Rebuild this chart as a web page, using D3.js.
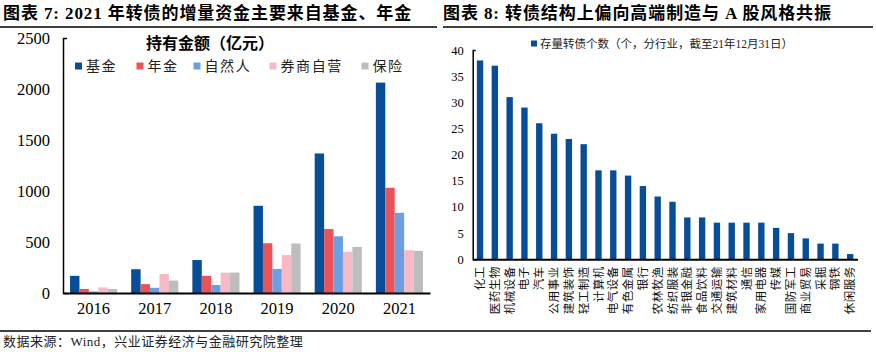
<!DOCTYPE html>
<html>
<head>
<meta charset="utf-8">
<script src="https://cdn.jsdelivr.net/npm/d3@7"></script>
<style>
  body { margin: 0; background: #fff; }
  svg { display: block; font-family: "Liberation Serif", "Noto Sans CJK SC", serif; }
</style>
</head>
<body>
<svg id="chart" width="876" height="352"></svg>
<script>
// left chart data
const years = ["2016", "2017", "2018", "2019", "2020", "2021"];
const holders = ["基金", "年金", "自然人", "券商自营", "保险"];
const fund = [168, 233, 323, 855, 1368, 2063];
const pension = [40, 87, 168, 488, 627, 1032];
const individual = [15, 51, 78, 236, 556, 786];
const broker = [55, 187, 200, 372, 404, 420];
const insurance = [40, 122, 200, 485, 452, 413];
const holderColors = ["#084d97", "#e8545a", "#6b9fe2", "#f6bac6", "#bdbdbd"];
const leftTicks = [0, 500, 1000, 1500, 2000, 2500];

// right chart data
const industries = ["化工", "医药生物", "机械设备", "电子", "汽车", "公用事业", "建筑装饰", "轻工制造",
  "计算机", "电气设备", "有色金属", "银行", "农林牧渔", "纺织服装", "非银金融", "食品饮料",
  "交通运输", "建筑材料", "通信", "家用电器", "传媒", "国防军工", "商业贸易", "采掘", "钢铁", "休闲服务"];
const bondCount = [38, 37, 31, 29, 26, 24, 23, 22, 17, 17, 16, 14, 12, 11, 8, 8, 7, 7, 7, 7, 6, 5, 4, 3, 3, 1];
const rightTicks = [0, 5, 10, 15, 20, 25, 30, 35, 40];

const svg = d3.select("#chart");
const series = [fund, pension, individual, broker, insurance];
const serif = "'Liberation Serif', 'Noto Sans CJK SC', serif";

// titles and rules
svg.append("text").attr("x", 3).attr("y", 19)
  .attr("font-size", 17).attr("font-weight", "bold").attr("letter-spacing", 0.9)
  .text("图表 7:  2021 年转债的增量资金主要来自基金、年金");
svg.append("text").attr("x", 443).attr("y", 19)
  .attr("font-size", 17).attr("font-weight", "bold").attr("letter-spacing", 0.9)
  .text("图表 8:  转债结构上偏向高端制造与 A 股风格共振");
svg.append("line").attr("x1", 0).attr("x2", 437).attr("y1", 27).attr("y2", 27)
  .attr("stroke", "#000").attr("stroke-width", 1.5);
svg.append("line").attr("x1", 443).attr("x2", 873).attr("y1", 27).attr("y2", 27)
  .attr("stroke", "#000").attr("stroke-width", 1.5);
svg.append("line").attr("x1", 0).attr("x2", 871).attr("y1", 331).attr("y2", 331)
  .attr("stroke", "#000").attr("stroke-width", 1.5);
svg.append("text").attr("x", 3).attr("y", 346)
  .attr("font-size", 13).attr("letter-spacing", 0.5).attr("fill", "#222")
  .text("数据来源：Wind，兴业证券经济与金融研究院整理");

// ---- left chart ----
const x0 = d3.scaleBand().domain(years).range([63, 430]).paddingInner(0.23).paddingOuter(0.115);
const x1 = d3.scaleBand().domain(holders).range([0, x0.bandwidth()]);
const yL = d3.scaleLinear().domain([0, 2500]).range([293, 38]);

const gL = svg.append("g");
years.forEach((yr, i) => {
  gL.append("g")
    .attr("transform", `translate(${x0(yr)},0)`)
    .selectAll("rect")
    .data(holders)
    .join("rect")
    .attr("x", d => x1(d))
    .attr("width", x1.bandwidth())
    .attr("y", (d, j) => yL(series[j][i]))
    .attr("height", (d, j) => yL(0) - yL(series[j][i]))
    .attr("fill", (d, j) => holderColors[j]);
});

const axL = gL.append("g").attr("transform", "translate(63,0)")
  .call(d3.axisLeft(yL).tickValues(leftTicks).tickFormat(d3.format("d"))
    .tickSize(0).tickSizeOuter(-4).tickPadding(13));
axL.attr("font-family", serif);
axL.select(".domain").attr("stroke-width", 1.5);
axL.selectAll("text").attr("font-size", 16.5).attr("fill", "#000");

const axB = gL.append("g").attr("transform", "translate(0,293)")
  .call(d3.axisBottom(x0).tickSize(0).tickSizeOuter(0).tickPadding(9));
axB.attr("font-family", serif);
axB.select(".domain").attr("stroke-width", 2);
axB.selectAll("text").attr("font-size", 16.5).attr("fill", "#000");

svg.append("text").attr("x", 210).attr("y", 49).attr("text-anchor", "middle")
  .attr("font-size", 16).attr("font-weight", "bold")
  .text("持有金额（亿元）");

const legX = [75, 136.5, 193.5, 269.5, 361.5];
const leg = svg.append("g").selectAll("g").data(holders).join("g")
  .attr("transform", (d, i) => `translate(${legX[i]},66)`);
leg.append("rect").attr("x", 0).attr("y", -3.5).attr("width", 7).attr("height", 7)
  .attr("fill", (d, i) => holderColors[i]);
leg.append("text").attr("x", 11).attr("y", 5).attr("font-size", 14)
  .attr("letter-spacing", 1.6).attr("fill", "#222").text(d => d);

// ---- right chart ----
const xR = d3.scaleBand().domain(industries).range([472.7, 857.5]).paddingInner(0.57).paddingOuter(0.28);
const yR = d3.scaleLinear().domain([0, 40]).range([259.3, 50]);

const gR = svg.append("g");
gR.selectAll("rect").data(industries).join("rect")
  .attr("x", d => xR(d))
  .attr("width", xR.bandwidth())
  .attr("y", (d, i) => yR(bondCount[i]))
  .attr("height", (d, i) => yR(0) - yR(bondCount[i]))
  .attr("fill", "#084d97");

const axRL = gR.append("g").attr("transform", "translate(472.7,0)")
  .call(d3.axisLeft(yR).tickValues(rightTicks).tickSize(0).tickSizeOuter(-3).tickPadding(9));
axRL.attr("font-family", serif);
axRL.select(".domain").attr("stroke-width", 1.5);
axRL.selectAll("text").attr("font-size", 12.5).attr("fill", "#000");

const axRB = gR.append("g").attr("transform", "translate(0,259.3)")
  .call(d3.axisBottom(xR).tickSize(0).tickSizeOuter(0));
axRB.select(".domain").attr("stroke-width", 2);
axRB.selectAll("text")
  .attr("font-size", 11.5).attr("fill", "#111")
  .attr("font-family", "Noto Sans CJK SC")
  .attr("letter-spacing", 0.5)
  .attr("text-anchor", "end")
  .attr("dy", "0.35em")
  .attr("transform", "translate(0,7) rotate(-90)")
  .attr("y", 0).attr("x", 0);

svg.append("rect").attr("x", 531).attr("y", 40.5).attr("width", 6).attr("height", 6).attr("fill", "#084d97");
svg.append("text").attr("x", 540).attr("y", 48).attr("font-size", 11.5)
  .attr("fill", "#222").text("存量转债个数（个，分行业，截至21年12月31日）");
</script>
</body>
</html>
